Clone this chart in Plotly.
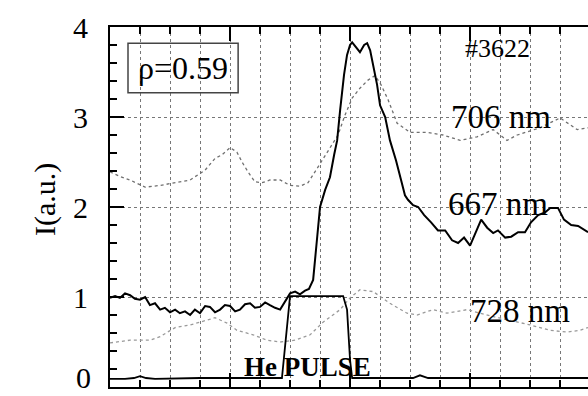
import plotly.graph_objects as go

# ---- data (x in arbitrary time units, y in a.u.) ----
x_667 = [0, 0.17, 0.33, 0.5, 0.67, 0.83, 1.0, 1.17, 1.33, 1.5, 1.67, 1.83, 2.0, 2.17, 2.33, 2.5,
         2.67, 2.83, 3.0, 3.17, 3.33, 3.5, 3.67, 3.83, 4.0, 4.17, 4.33, 4.5, 4.67, 4.83, 5.0, 5.17,
         5.33, 5.5, 5.67, 5.83, 6.0, 6.17, 6.33, 6.5, 6.63, 6.77, 6.87, 7.0, 7.17, 7.33, 7.47, 7.57,
         7.67, 7.8, 7.9, 8.0, 8.07, 8.2, 8.33, 8.47, 8.57, 8.67, 8.77, 8.9, 9.0, 9.17, 9.33, 9.53,
         9.7, 9.83, 9.93, 10.1, 10.27, 10.47, 10.7, 10.93, 11.17, 11.4, 11.6, 11.8, 12.0, 12.2,
         12.37, 12.57, 12.77, 12.93, 13.17, 13.37, 13.6, 13.83, 14.03, 14.27, 14.5, 14.67, 14.93,
         15.13, 15.37, 15.6, 15.83, 15.93]
y_667 = [0.99, 1.01, 0.99, 1.04, 1.02, 0.98, 0.97, 1.0, 0.91, 0.93, 0.86, 0.88, 0.83, 0.86, 0.82, 0.84,
         0.8, 0.86, 0.82, 0.9, 0.89, 0.83, 0.86, 0.91, 0.9, 0.84, 0.86, 0.92, 0.93, 0.88, 0.89, 0.94,
         0.91, 0.88, 0.86, 0.94, 1.04, 1.06, 1.03, 1.07, 1.09, 1.19, 1.52, 2.0, 2.19, 2.33, 2.58, 2.74,
         3.08, 3.47, 3.69, 3.8, 3.83, 3.77, 3.72, 3.8, 3.82, 3.74, 3.58, 3.36, 3.13, 3.0, 2.74, 2.52,
         2.3, 2.13, 2.08, 2.02, 2.0, 1.91, 1.83, 1.74, 1.74, 1.63, 1.6, 1.66, 1.57, 1.72,
         1.86, 1.77, 1.71, 1.74, 1.66, 1.67, 1.72, 1.72, 1.83, 1.91, 1.94, 1.99, 1.99,
         1.86, 1.8, 1.79, 1.74, 1.72]

x_706 = [0, 0.33, 0.67, 1.17, 1.67, 2.17, 2.67, 3.17, 3.5, 3.73, 4.0, 4.23, 4.4, 4.6, 4.83, 5.07,
         5.33, 5.67, 6.0, 6.33, 6.6, 6.83, 7.07, 7.33, 7.6, 7.83, 8.07, 8.33, 8.6, 8.83, 9.03, 9.27,
         9.57, 10.0, 10.57, 11.1, 11.67, 12.23, 12.77, 13.23, 13.57, 14.33, 15.0, 15.57, 15.93]
y_706 = [2.39, 2.34, 2.3, 2.22, 2.24, 2.27, 2.3, 2.41, 2.54, 2.58, 2.66, 2.61, 2.5, 2.39, 2.28, 2.27,
         2.3, 2.3, 2.24, 2.23, 2.27, 2.39, 2.52, 2.66, 2.8, 3.02, 3.21, 3.32, 3.41, 3.46, 3.36, 3.19,
         2.93, 2.83, 2.83, 2.8, 2.74, 2.78, 2.86, 2.74, 2.8, 2.88, 2.99, 2.86, 2.88]

x_728 = [0, 0.23, 0.67, 1.33, 1.67, 2.17, 2.67, 3.0, 3.5, 3.9, 4.23, 4.77, 5.23, 5.67, 6.17, 6.67,
         7.1, 7.67, 8.0, 8.33, 8.77, 9.33, 9.9, 10.23, 10.77, 11.23, 11.9, 12.67, 13.33, 14.0, 14.67,
         15.23, 15.67, 15.93]
y_728 = [0.49, 0.5, 0.52, 0.52, 0.56, 0.66, 0.69, 0.72, 0.77, 0.71, 0.63, 0.58, 0.52, 0.5, 0.52, 0.58,
         0.72, 0.86, 0.99, 1.08, 1.06, 0.93, 0.82, 0.8, 0.86, 0.82, 0.86, 0.79, 0.74, 0.69, 0.63,
         0.61, 0.63, 0.66]

x_he = [0, 0.5, 0.8, 1.0, 1.2, 1.5, 3.0, 5.0, 5.73, 6.0, 7.77, 7.9, 8.0, 8.07, 8.5, 9.5, 10.1, 10.33,
        10.6, 11.5, 13.0, 14.5, 15.93]
y_he = [0.09, 0.09, 0.1, 0.12, 0.1, 0.09, 0.1, 0.1, 0.1, 1.01, 1.01, 0.86, 0.3, 0.1, 0.1, 0.1, 0.1, 0.13,
        0.1, 0.1, 0.1, 0.1, 0.1]

y_ticks = [0, 1, 2, 3, 4]
y_ticklabels = ["0", "1", "2", "3", "4"]

SERIF = "Liberation Serif"

fig = go.Figure()
fig.add_trace(go.Scatter(x=x_728, y=y_728, mode="lines",
                         line=dict(color="#9a9a9a", width=1.3, dash="dot"), showlegend=False))
fig.add_trace(go.Scatter(x=x_706, y=y_706, mode="lines",
                         line=dict(color="#707070", width=1.3, dash="dot"), showlegend=False))
fig.add_trace(go.Scatter(x=x_he, y=y_he, mode="lines",
                         line=dict(color="black", width=1.8), showlegend=False))
fig.add_trace(go.Scatter(x=x_667, y=y_667, mode="lines",
                         line=dict(color="black", width=2), showlegend=False))

# rho box
fig.add_shape(type="rect", x0=0.6, x1=4.27, y0=3.27, y1=3.82, xref="x", yref="y",
              line=dict(color="#444", width=1.5))

ann = [
    ("ρ=0.59", 2.43, 3.54, 32),
    ("#3622", 12.93, 3.76, 26),
    ("706 nm", 13.03, 3.0, 33),
    ("667 nm", 12.93, 2.03, 33),
    ("728 nm", 13.67, 0.84, 33),
    ("<b>He PULSE</b>", 6.57, 0.22, 27),
]
for t, x, y, s in ann:
    fig.add_annotation(text=t, x=x, y=y, xref="x", yref="y", showarrow=False,
                       font=dict(family=SERIF, size=s, color="black"))

# bottom "0" tick label, kept fully inside the page
fig.add_annotation(text=y_ticklabels[0], xref="paper", yref="paper", x=(83 - 110) / 478, y=-8 / 360,
                   showarrow=False, yanchor="bottom", xanchor="center", borderpad=0,
                   font=dict(family=SERIF, size=30, color="black"))

fig.add_annotation(text="I(a.u.)", xref="paper", yref="paper", x=(26 - 110) / 478, y=(387 - 200) / 360,
                   showarrow=False, textangle=-90, font=dict(family=SERIF, size=30, color="black"))

fig.update_layout(
    width=588, height=396,
    margin=dict(l=110, r=0, t=27, b=9),
    plot_bgcolor="white", paper_bgcolor="white",
    xaxis=dict(range=[0, 15.93], showticklabels=False, showline=True, linecolor="black", linewidth=2,
               mirror="allticks", ticks="inside", ticklen=14, tickwidth=1.5, tickcolor="black",
               tick0=0, dtick=4, showgrid=True, gridcolor="#777", griddash="dot", gridwidth=1,
               zeroline=False,
               minor=dict(dtick=1, ticks="inside", ticklen=7, tickcolor="black", tickwidth=1.5,
                          showgrid=True, gridcolor="#777", griddash="dot", gridwidth=1)),
    yaxis=dict(range=[0, 4], tickvals=y_ticks[1:], ticktext=y_ticklabels[1:], showline=True,
               linecolor="black", linewidth=2, mirror=False, ticks="inside", ticklen=14,
               tickwidth=1.5, tickcolor="black", showgrid=True, gridcolor="#777", griddash="dot",
               gridwidth=1, zeroline=False, ticklabelstandoff=14,
               tickfont=dict(family=SERIF, size=30, color="black"),
               minor=dict(dtick=0.2, ticks="inside", ticklen=7, tickcolor="black", tickwidth=1.5,
                          showgrid=False)),
)

fig.write_html("out.html")
